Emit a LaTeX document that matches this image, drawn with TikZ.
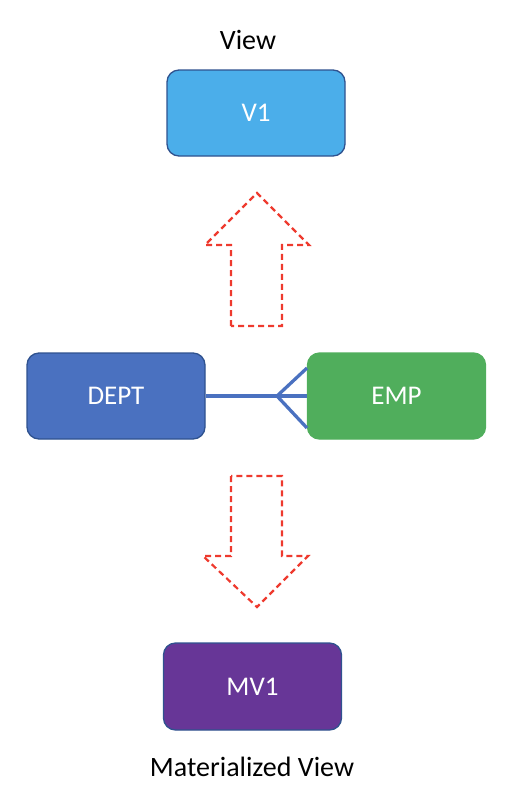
\documentclass[tikz,border=0pt]{standalone}
\usepackage{fontspec}
\setmainfont{Carlito}
\definecolor{vblue}{HTML}{4BAEEA}
\definecolor{dblue}{HTML}{4A71C0}
\definecolor{egreen}{HTML}{50AE5C}
\definecolor{mpurple}{HTML}{673697}
\definecolor{edge}{HTML}{2F528F}
\definecolor{ared}{HTML}{EE3A2E}
\tikzset{
  box/.style={rectangle, rounded corners=12pt, draw=edge, line width=1.3pt,
    minimum width=178pt, minimum height=86pt, inner sep=0pt,
    text=white, font=\fontsize{27}{32}\selectfont},
  lbl/.style={font=\fontsize{28}{33}\selectfont, text=black, inner sep=0pt},
  blockarrow/.style={draw=ared, line width=2.2pt, dash pattern=on 6pt off 4pt},
  conn/.style={draw=dblue, line width=3.3pt}
}
\begin{document}
\begin{tikzpicture}[x=1pt,y=-1pt]
\useasboundingbox (0,0) rectangle (514,804);
\node[lbl] (view) at (248,40) {View};
\node[box, fill=vblue] (v1) at (256,113) {V1};
\node[box, fill=dblue] (dept) at (116,396) {DEPT};
\node[box, fill=egreen, draw=egreen] (emp) at (396.5,396) {EMP};
\node[box, fill=mpurple, minimum height=87pt] (mv1) at (252.5,686.5) {MV1};
\node[lbl] (mview) at (252,767) {Materialized View};
% block arrows
\draw[blockarrow] (231,326) -- (231,245) -- (205,245) -- (257,193) -- (309,245) -- (282,245) -- (282,326) -- cycle;
\draw[blockarrow] (231,476) -- (231,556) -- (203,556) -- (257,607) -- (308,556) -- (282,556) -- (282,476) -- cycle;
% crow's foot connector
\coordinate (cf) at (277,396);
\coordinate (cfa) at (307,368);
\coordinate (cfb) at (307,428);
\draw[conn] (dept.east) -- (emp.west);
\draw[conn] (cfa) -- (cf) -- (cfb);
\end{tikzpicture}
\end{document}
